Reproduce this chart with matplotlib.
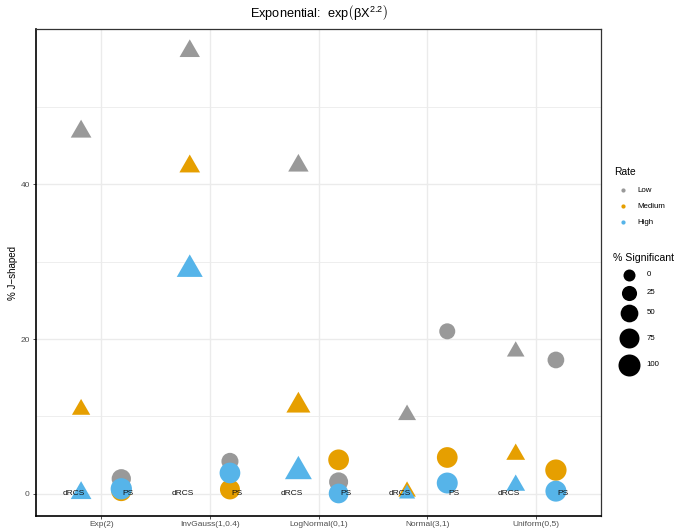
import numpy as np
import matplotlib
matplotlib.use("Agg")
import matplotlib.pyplot as plt
from matplotlib.path import Path
from matplotlib.ticker import FixedLocator

plt.rcParams["font.family"] = ["Liberation Sans", "DejaVu Sans"]
plt.rcParams["mathtext.fontset"] = "custom"
plt.rcParams["mathtext.rm"] = "Liberation Sans"
plt.rcParams["mathtext.it"] = "Liberation Sans:italic"

DPI = 100

categories = ["Exp(2)", "InvGauss(1,0.4)", "LogNormal(0,1)", "Normal(3,1)", "Uniform(0,5)"]
rates = ["Low", "Medium", "High"]
rate_colors = ["#999999", "#E69F00", "#56B4E9"]

# % J-shaped, dRCS method (triangles)
drcs_low = [46.8, 57.2, 42.4, 10.2, 18.4]
drcs_medium = [10.9, 42.3, 11.4, 0.3, 5.1]
drcs_high = [0.1, 29.0, 2.9, 0.0, 1.1]
# % significant, dRCS method
drcs_sig_low = [27, 25, 25, 10, 8]
drcs_sig_medium = [12, 27, 51, 8, 15]
drcs_sig_high = [27, 67, 75, 0, 15]

# % J-shaped, PS method (circles)
ps_low = [1.95, 4.2, 1.55, 21.0, 17.3]
ps_medium = [0.35, 0.57, 4.4, 4.7, 3.07]
ps_high = [0.65, 2.7, 0.05, 1.4, 0.35]
# % significant, PS method
ps_sig_low = [67, 43, 64, 33, 40]
ps_sig_medium = [75, 75, 84, 84, 91]
ps_sig_high = [91, 84, 72, 87, 87]

y_major = [0, 20, 40]
y_minor = [10, 30, 50]
legend_sig = [0, 25, 50, 75, 100]

drcs_vals = [drcs_low, drcs_medium, drcs_high]
drcs_sigs = [drcs_sig_low, drcs_sig_medium, drcs_sig_high]
ps_vals = [ps_low, ps_medium, ps_high]
ps_sigs = [ps_sig_low, ps_sig_medium, ps_sig_high]


def diam_px(sig):
    # area-proportional size scale, 12px..22px diameter
    return np.sqrt(12.0 ** 2 + (22.0 ** 2 - 12.0 ** 2) * np.asarray(sig, float) / 100.0)


def circle_s(sig):
    return (diam_px(sig) * 72 / DPI) ** 2


def tri_s(sig):
    return (1.555 * diam_px(sig) * 72 / DPI) ** 2


# equal-area triangle, centroid at the data point
tri = Path([(0, 1.555), (1.347, -0.778), (-1.347, -0.778), (0, 1.555)],
           [Path.MOVETO, Path.LINETO, Path.LINETO, Path.CLOSEPOLY])

fig = plt.figure(figsize=(6.78, 5.28), dpi=DPI)
W, H = 678, 528
ax = fig.add_axes([36 / W, 1 - 516 / H, 565 / W, 487 / H])

x = np.arange(len(categories))
off = 0.185

for vals, sigs, col in zip(drcs_vals, drcs_sigs, rate_colors):
    ax.scatter(x - off, vals, s=tri_s(sigs), marker=tri, color=col, linewidths=0, zorder=3)
for vals, sigs, col in zip(ps_vals, ps_sigs, rate_colors):
    ax.scatter(x + off, vals, s=circle_s(sigs), marker="o", color=col, linewidths=0, zorder=3)

for i in x:
    ax.text(i - 0.25, 0, "dRCS", ha="center", va="center", fontsize=6, color="#111111", zorder=5)
    ax.text(i + 0.25, 0, "PS", ha="center", va="center", fontsize=6, color="#111111", zorder=5)

allv = np.concatenate([np.ravel(drcs_vals), np.ravel(ps_vals)])
lo, hi = allv.min(), allv.max()
pad = 0.05 * (hi - lo)
ax.set_ylim(lo - pad, hi + pad)
ax.set_xlim(-0.6, len(categories) - 0.4)

ax.set_xticks(x)
ax.set_xticklabels(categories)
ax.yaxis.set_major_locator(FixedLocator(y_major))
ax.yaxis.set_minor_locator(FixedLocator(y_minor))
ax.grid(True, which="major", color="#EBEBEB", linewidth=1.0, zorder=0)
ax.grid(True, which="minor", axis="y", color="#EBEBEB", linewidth=0.6, zorder=0)
ax.set_axisbelow(True)
ax.tick_params(axis="both", which="major", labelsize=6, labelcolor="#4D4D4D",
               color="#333333", length=2.5, width=0.6, pad=2)
ax.tick_params(axis="x", which="major", pad=1)
ax.tick_params(axis="y", which="minor", length=0)

for side in ["top", "right"]:
    ax.spines[side].set_color("#333333")
    ax.spines[side].set_linewidth(0.9)
for side in ["left", "bottom"]:
    ax.spines[side].set_color("black")
    ax.spines[side].set_linewidth(1.2)

ax.set_ylabel("% J\u2212shaped", fontsize=7)
ax.yaxis.set_label_coords((18 - 36) / 565, 0.5)

fig.text(318.5 / W, 1 - 12.5 / H, r"Exponential:  $\mathrm{exp}\left(\mathrm{\beta X}^{2.2}\right)$",
         ha="center", va="center", fontsize=9.2)

# legends
lax = fig.add_axes([0, 0, 1, 1], facecolor="none")
lax.set_xlim(0, W)
lax.set_ylim(H, 0)
lax.axis("off")

lax.text(614, 172, "Rate", fontsize=7.4, va="center", ha="left")
for r, col, yy in zip(rates, rate_colors, [190, 206, 222]):
    lax.scatter([622.7], [yy], s=(4.2 * 72 / DPI) ** 2, color=col, linewidths=0)
    lax.text(637.5, yy, r, fontsize=5.7, va="center", ha="left")

lax.text(613, 258, "% Significant", fontsize=7.6, va="center", ha="left")
for sg, yy in zip(legend_sig, [275, 293, 313, 338, 365]):
    lax.scatter([629], [yy], s=circle_s([sg]), color="black", linewidths=0)
    lax.text(646.5, yy, str(sg), fontsize=5.7, va="center", ha="left")

fig.savefig("out.png", dpi=DPI)
